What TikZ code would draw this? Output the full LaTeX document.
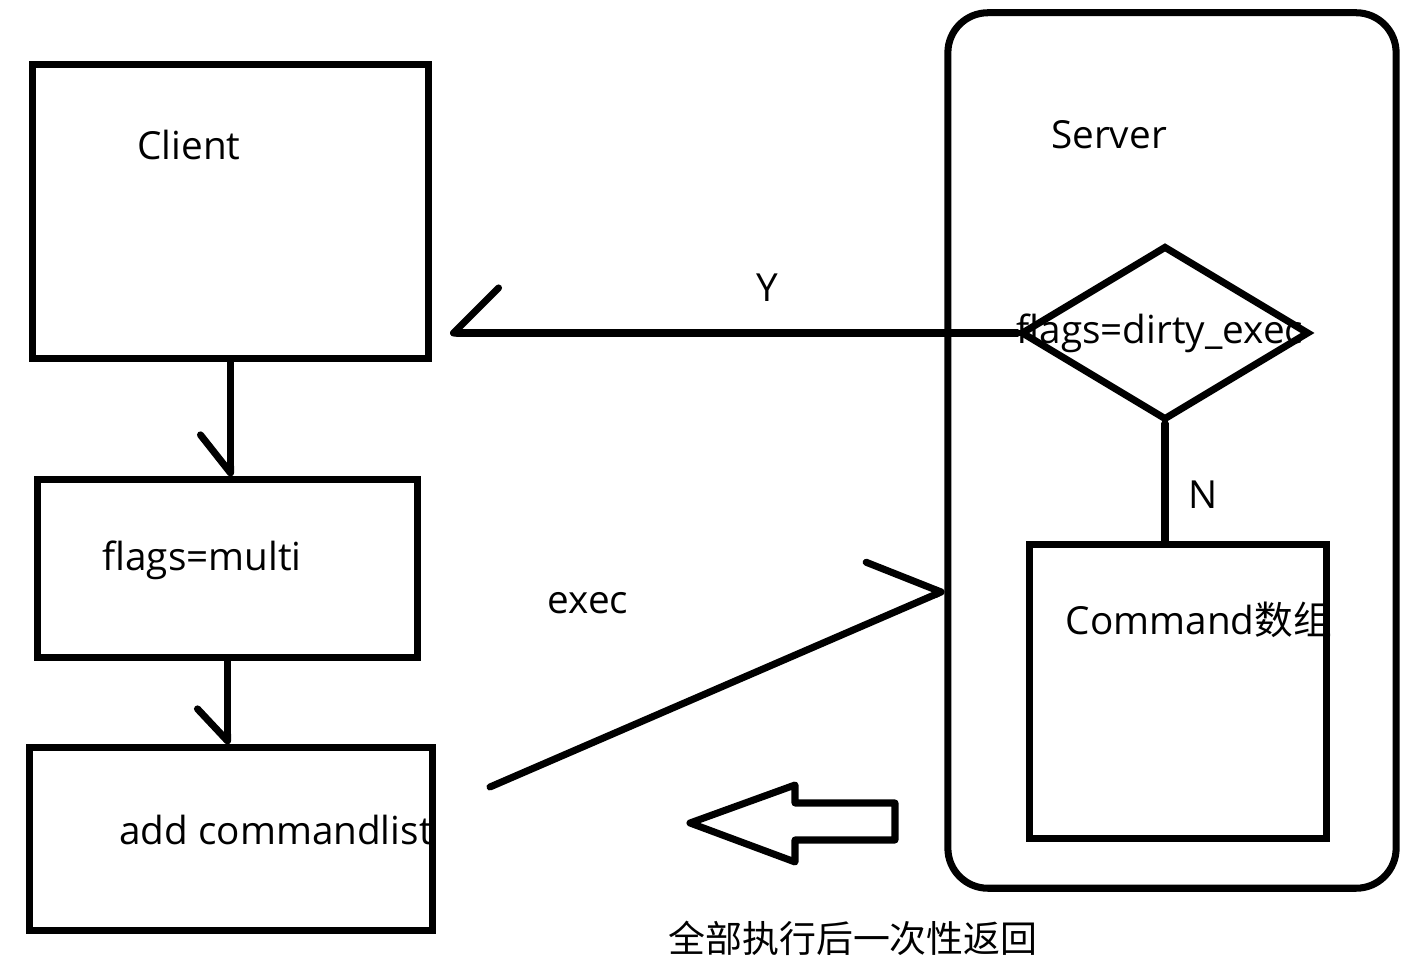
\documentclass[tikz,border=0pt]{standalone}
\usepackage{fontspec}
\setmainfont{Open Sans}
\newfontfamily\cjk{Noto Sans CJK SC}
\usetikzlibrary{arrows.meta, positioning, shapes.geometric, calc}

\begin{document}
\begin{tikzpicture}[x=0.01cm, y=-0.01cm,
    box/.style={draw, line width=2pt, inner sep=0pt},
    txt/.style={font=\fontsize{11pt}{13pt}\selectfont, inner sep=0pt},
    link/.style={line width=2pt, line cap=round},
    barb/.style={-{Straight Barb[#1, round]}}
]
\useasboundingbox (0,0) rectangle (1424,974);

% Client side
\node[box, minimum width=3.95cm, minimum height=2.93cm] (client) at (230.5,211.5) {};
\node[txt] (clienttxt) at (189,145) {Client};
\node[box, minimum width=3.79cm, minimum height=1.77cm] (multi) at (227.5,568.5) {};
\node[txt] (multitxt) at (202,560) {flags=multi};
\node[box, minimum width=4.02cm, minimum height=1.82cm] (addlist) at (231,839) {};
\node[txt] (addtxt) at (276,830) {add commandlist};

% Server side
\node[box, rounded corners=0.4cm, minimum width=4.48cm, minimum height=8.75cm] (server) at (1172,450.5) {};
\node[txt] (servertxt) at (1109,135) {Server};
\node[box, diamond, minimum width=2.88cm, minimum height=1.74cm] (dirty) at (1165,333) {};
\node[txt] (dirtytxt) at (1160,333) {flags=dirty\_exec};
\node[box, minimum width=2.96cm, minimum height=2.93cm] (cmdarr) at (1178,691.5) {};
\node[txt] (cmdtxt) at (1199,620) {Command{\cjk 数组}};

% Connectors
\draw[link, barb={right, length=3.8mm, width=6mm}] (client.south) -- (client.south |- multi.north);
\draw[link, barb={right, length=3.2mm, width=6mm}] (multi.south) -- (multi.south |- addlist.north);

\coordinate (ytip) at (450,330);
\draw[link, barb={right, length=4.5mm, width=9mm}] (dirty.west) -- (dirty.west -| ytip)
    node[txt, pos=0.44, above=0.28cm] (ylabel) {Y};
\draw[link] (dirty.south) -- (dirty.south |- cmdarr.north)
    node[txt, pos=0.6, right=0.2cm] (nlabel) {N};

\coordinate (execstart) at (490,787);
\draw[link, barb={left, length=5.7mm, width=11.4mm}] (execstart) -- ([yshift=-1.4cm]server.west);
\node[txt] (execlabel) at (588,603) {exec};

% Return arrow
\draw[link, line join=round] (895,803) -- (795,803) -- (795,785) -- (690,823)
    -- (795,862) -- (795,840) -- (895,840) -- cycle;
\node[txt, font=\cjk\fontsize{10.5pt}{13pt}\selectfont] (backtxt) at (853,938) {全部执行后一次性返回};
\end{tikzpicture}
\end{document}
